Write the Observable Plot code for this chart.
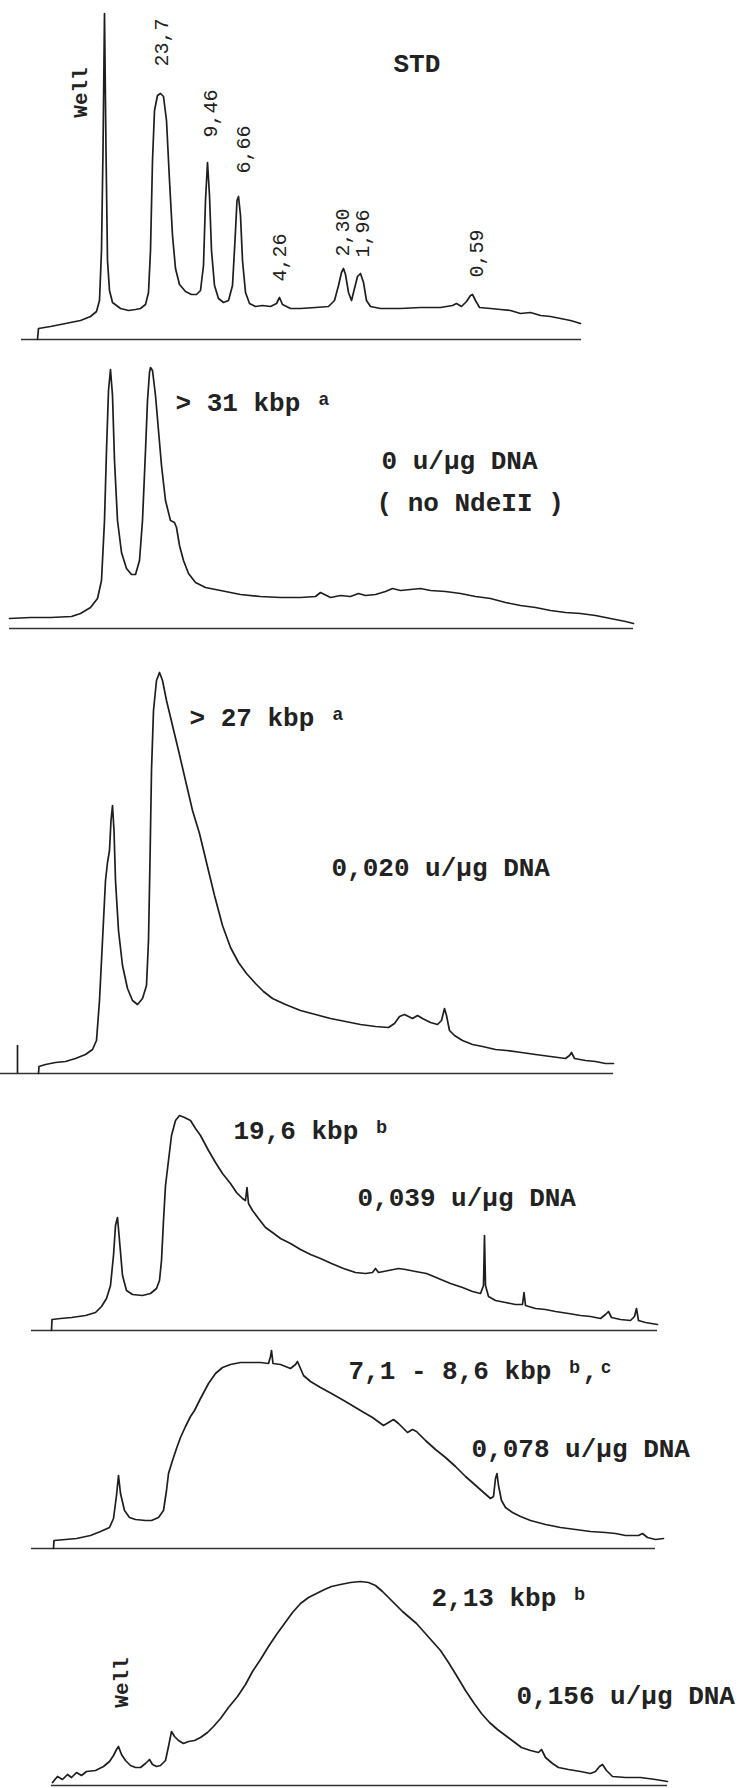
<!DOCTYPE html>
<html>
<head>
<meta charset="utf-8">
<script src="https://cdn.jsdelivr.net/npm/d3@7"></script>
<script src="https://cdn.jsdelivr.net/npm/@observablehq/plot@0.6"></script>
<style>
  html, body { margin: 0; padding: 0; background: #fff; }
  #chart { width: 742px; }
  #chart svg { display: block; }
</style>
</head>
<body>
<div id="chart"></div>
<script>
// Densitometer traces: [migration position, signal height] (arbitrary units)
const stdTrace = [[37,0],[38,11],[50,13],[60,15],[70,17],[80,19],[90,23],[96,28],[99,39],[101,89],[102.5,189],[104,326],[105.5,189],[107,79],[109,49],[112,37],[120,31],[128,29],[135,30],[140,31],[145,35],[148,47],[150,89],[152,179],[154,229],[157,244],[160,246],[163,243],[166,219],[169,159],[172,104],[175,71],[179,55],[185,48],[191,45],[196,45],[200,49],[203,74],[205,139],[207,177],[209,144],[211,89],[214,54],[218,41],[223,37],[228,39],[232,54],[234.5,99],[236.5,139],[238,143],[240,124],[242,79],[245,47],[249,36],[255,33],[262,34],[270,33],[276,36],[279,42],[282,35],[290,31],[300,31],[315,32],[328,33],[334,39],[338,54],[341,67],[343,71],[345,65],[348,47],[351,39],[354,51],[357,63],[360,66],[363,57],[366,39],[370,33],[380,31],[400,31],[420,32],[440,32],[452,34],[456,36],[461,33],[466,38],[470,44],[472,45],[475,39],[479,32],[490,31],[500,30],[510,29],[520,26],[530,27],[540,24],[550,23],[560,21],[570,19],[580,16]];

const trace0 = [[9,10],[30,11],[50,11],[71,12],[80,15],[90,21],[97,30],[101,48],[104,108],[106,178],[108,238],[110,259],[112,233],[114,168],[117,108],[121,76],[126,60],[131,54],[135,54],[139,68],[142,108],[145,178],[147,228],[149,256],[150,261],[152,258],[155,233],[158,198],[161,163],[165,128],[170,108],[174,106],[176,101],[179,83],[183,68],[188,55],[195,46],[205,41],[220,38],[240,34],[260,32],[280,31],[300,31],[315,32],[320,36],[324,34],[330,31],[340,33],[350,32],[358,35],[365,33],[375,34],[385,37],[392,40],[400,38],[410,39],[420,40],[430,38],[445,37],[460,35],[475,32],[490,30],[505,26],[520,23],[535,21],[550,18],[565,16],[580,15],[595,13],[610,10],[625,7],[633,5]];

const trace020 = [[38,0],[38.5,7],[45,9],[55,11],[65,12],[75,15],[85,19],[92,24],[96,33],[99,73],[102,133],[105,193],[107,211],[109,223],[110.5,253],[112,268],[113.5,243],[115,193],[118,143],[122,108],[127,85],[132,73],[137,69],[142,75],[146,88],[148,133],[149.5,213],[151,303],[153,363],[156,393],[159,401],[162,393],[166,373],[172,348],[178,323],[185,293],[192,263],[199,240],[206,211],[214,178],[222,148],[230,126],[238,111],[246,100],[255,90],[263,82],[272,75],[285,69],[300,63],[315,59],[330,55],[345,52],[360,49],[375,47],[388,46],[394,50],[399,57],[404,59],[408,57],[412,55],[417,58],[422,55],[430,51],[437,49],[441,53],[444,65],[446,58],[449,43],[454,38],[462,33],[472,29],[482,27],[495,24],[506,23],[521,21],[535,19],[550,17],[565,15],[569,18],[571,21],[574,15],[585,13],[595,12],[605,10],[613,10]];
const trace020Tick = [{x: 17, h: 28}];

const trace039 = [[51,0],[51.5,11],[60,12],[71,13],[85,15],[95,18],[101,24],[106,32],[110,45],[113,75],[115,105],[117,113],[119,90],[122,55],[126,40],[132,36],[142,35],[150,37],[156,42],[159,50],[161,70],[163,110],[165,145],[168,170],[171,195],[175,210],[179,215],[184,213],[190,210],[195,202],[200,195],[208,180],[215,168],[222,157],[230,147],[236,138],[242,132],[245,130],[246.5,143],[248,127],[252,120],[258,112],[265,103],[272,98],[280,92],[290,87],[300,81],[310,76],[320,72],[331,67],[343,62],[355,58],[365,57],[372,58],[375,62],[378,58],[388,60],[398,62],[405,61],[415,59],[426,57],[438,52],[450,47],[462,43],[472,39],[480,37],[483,45],[484,95],[485,45],[488,34],[495,30],[505,28],[515,26],[522,26],[523.5,38],[525,25],[535,22],[545,21],[555,19],[568,17],[580,15],[590,14],[600,12],[605,16],[608,19],[611,13],[620,11],[630,10],[634,14],[636,22],[638,10],[645,8],[657,6]];

const trace078 = [[53,0],[53.5,8],[65,9],[76,10],[90,13],[100,17],[109,21],[113,30],[116,53],[118,73],[120,55],[124,38],[129,31],[135,29],[145,28],[151,28],[158,31],[163,38],[166,58],[168,75],[172,88],[176,100],[180,111],[185,122],[190,132],[194,138],[200,150],[208,165],[215,175],[222,181],[230,184],[240,186],[250,186],[260,186],[268,185],[270,192],[271,198],[272.5,185],[280,184],[290,180],[295,184],[297,187],[300,180],[303,173],[310,167],[320,161],[331,155],[345,147],[360,138],[372,131],[383,123],[388,126],[393,129],[398,125],[403,120],[407,116],[412,119],[416,117],[425,108],[435,99],[445,91],[455,82],[465,72],[473,65],[482,57],[490,50],[493,52],[495,70],[496.5,75],[498,63],[501,48],[505,41],[512,36],[520,32],[530,28],[545,24],[560,21],[575,19],[590,17],[605,16],[615,15],[625,13],[638,13],[642,15],[647,11],[655,9],[663,10]];

const trace156 = [[52,3],[57,9],[62,6],[67,11],[71,8],[76,13],[81,10],[86,14],[95,15],[103,19],[109,24],[113,30],[116,36],[118,39],[121,31],[125,25],[130,20],[135,18],[140,18],[145,22],[149,26],[152,21],[156,19],[160,20],[165,25],[168,39],[171,54],[174,49],[178,45],[183,42],[188,44],[194,45],[200,48],[207,53],[213,59],[220,67],[228,78],[237,89],[245,101],[252,114],[260,126],[268,139],[276,151],[284,162],[292,173],[300,182],[308,188],[316,192],[324,196],[331,199],[340,201],[350,203],[360,204],[368,203],[375,200],[382,194],[388,188],[395,181],[402,174],[409,168],[416,162],[424,153],[432,144],[440,135],[448,123],[456,110],[465,95],[473,83],[481,72],[489,63],[497,56],[505,50],[513,44],[521,38],[530,35],[538,33],[541,36],[545,28],[552,22],[558,18],[568,16],[580,14],[590,12],[595,14],[599,19],[602,21],[606,15],[612,9],[625,8],[640,8],[655,6],[667,4]];

// Base lines under each trace: [start, end]
const baselines = [[21,581],[9,633],[0,613],[31,657],[31,655],[51,667]];

// Band-size labels of the standard (rotated), at [position, height]
const stdBandText = ["23,7","9,46","6,66","4,26","2,30","1,96","0,59"];
const stdBandPos  = [[161,297],[210,226],[243,190],[279,82],[342,107],[362,106],[476,86]];
const wellText = "Well";
const wellPos = [[80,247],[121,103]]; // STD panel, last panel

// Panel texts
const panelTitles = ["STD","0 u/µg DNA","0,020 u/µg DNA","0,039 u/µg DNA","0,078 u/µg DNA","0,156 u/µg DNA"];
const titlePos = [[393,276],[381,168],[331,206],[357,133],[471,100],[516,90]];
const sizeText = [null,"> 31 kbp ᵃ","> 27 kbp ᵃ","19,6 kbp ᵇ","7,1 - 8,6 kbp ᵇ,ᶜ","2,13 kbp ᵇ"];
const sizePos  = [null,[175,226],[189,356],[233,200],[348,178],[431,188]];
const noteText = "( no NdeII )";
const notePos = [376,126];

const traces = [stdTrace, trace0, trace020, trace039, trace078, trace156];
const heights = [350, 290, 445, 255, 218, 230];
const bottoms = [11, 12, 12, 10, 10, 3];

const INK = "#1e1e1e";
const MONO = "'Liberation Mono', 'DejaVu Sans Mono', monospace";

const root = document.getElementById("chart");
traces.forEach((tr, i) => {
  const pts = tr.map(([x, h]) => ({x, h}));
  const texts = [];
  texts.push({x: titlePos[i][0], h: titlePos[i][1], text: panelTitles[i]});
  if (sizeText[i]) texts.push({x: sizePos[i][0], h: sizePos[i][1], text: sizeText[i]});
  if (i === 1) texts.push({x: notePos[0], h: notePos[1], text: noteText});
  const rot = [];
  if (i === 0) stdBandText.forEach((t, k) => rot.push({x: stdBandPos[k][0], h: stdBandPos[k][1], text: t}));
  const wells = [];
  if (i === 0) wells.push({x: wellPos[0][0], h: wellPos[0][1], text: wellText});
  if (i === 5) wells.push({x: wellPos[1][0], h: wellPos[1][1], text: wellText});

  const marks = [
    Plot.ruleY([{y: 0, x1: baselines[i][0], x2: baselines[i][1]}], {y: "y", x1: "x1", x2: "x2", stroke: "#333", strokeWidth: 1.4}),
    Plot.line(pts, {x: "x", y: "h", stroke: INK, strokeWidth: 1.7, strokeLinejoin: "round"}),
    Plot.text(texts, {x: "x", y: "h", text: "text", textAnchor: "start", fontFamily: MONO, fontWeight: "bold", fontSize: 26, fill: "#222"}),
    Plot.text(rot, {x: "x", y: "h", text: "text", rotate: -90, fontFamily: MONO, fontSize: 20, fill: "#222"}),
    Plot.text(wells, {x: "x", y: "h", text: "text", rotate: -90, fontFamily: MONO, fontWeight: "bold", fontSize: 21, fill: "#222"})
  ];
  if (i === 2) marks.push(Plot.ruleX(trace020Tick, {x: "x", y1: 0, y2: "h", stroke: INK, strokeWidth: 1.7}));

  const svg = Plot.plot({
    width: 742,
    height: heights[i],
    marginTop: 0, marginRight: 0, marginLeft: 0, marginBottom: bottoms[i],
    x: {domain: [0, 742], axis: null},
    y: {domain: [0, heights[i] - bottoms[i]], axis: null},
    style: {background: "#fff", overflow: "visible"},
    marks
  });
  root.appendChild(svg);
});
</script>
</body>
</html>
